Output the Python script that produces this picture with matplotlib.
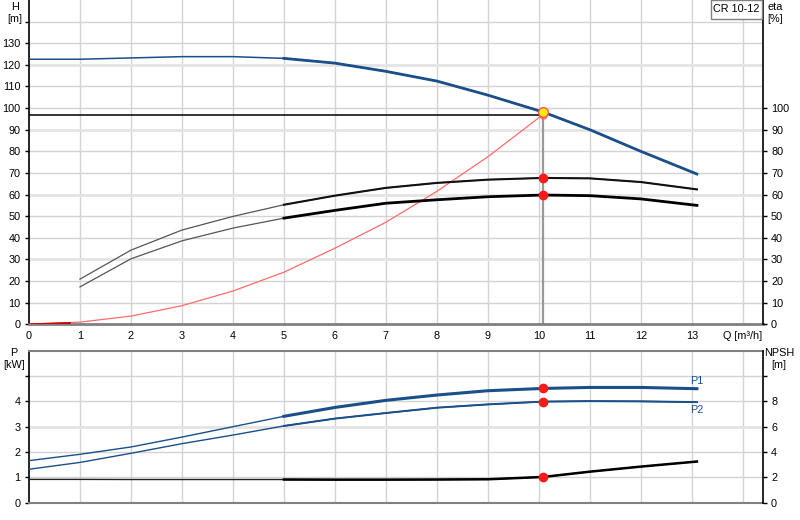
import numpy as np
import matplotlib
matplotlib.use('Agg')
import matplotlib.pyplot as plt
from matplotlib.patches import Rectangle

plt.rcParams['font.family'] = ['Liberation Sans', 'DejaVu Sans']

# рабочая точка
Q_duty = 10.08
H_duty = 98.2
H_sys_duty = 97.0

# напорная характеристика H(Q)
q_h = [0, 1, 2, 3, 4, 5, 6, 7, 8, 9, 10.08, 11, 12, 13.1]
h = [122.6, 122.6, 123.2, 123.8, 123.8, 123.0, 120.8, 117.0, 112.5, 106.0, 98.2, 90.0, 80.0, 69.5]

# КПД (два варианта)
q_eta = [1, 2, 3, 4, 5, 6, 7, 8, 9, 10.08, 11, 12, 13.1]
eta_pump = [20.9, 34.3, 43.6, 49.9, 55.3, 59.5, 63.1, 65.4, 66.9, 67.7, 67.5, 65.8, 62.4]
eta_total = [17.3, 30.3, 38.6, 44.5, 49.1, 52.7, 56.0, 57.6, 59.0, 59.8, 59.5, 58.0, 55.0]

# характеристика системы
q_sys = [0, 1, 2, 3, 4, 5, 6, 7, 8, 9, 10.08]
h_sys = [0, 1.0, 3.8, 8.6, 15.4, 24.1, 35.2, 47.2, 61.5, 77.5, 97.0]

# мощность P1, P2 и NPSH
q_p = [0, 1, 2, 3, 4, 5, 6, 7, 8, 9, 10.08, 11, 12, 13.1]
p1 = [1.66, 1.91, 2.20, 2.59, 3.00, 3.41, 3.76, 4.04, 4.25, 4.42, 4.51, 4.55, 4.55, 4.50]
p2 = [1.32, 1.59, 1.95, 2.33, 2.67, 3.03, 3.32, 3.54, 3.75, 3.88, 3.99, 4.01, 4.00, 3.97]
npsh = [1.84, 1.84, 1.83, 1.83, 1.83, 1.83, 1.82, 1.82, 1.83, 1.85, 2.03, 2.45, 2.85, 3.25]

blue = '#1a4f8a'
grid_c = '#d3d3d3'
fs = 7.8


def two_part(ax, x, y, color, thin_c, lw_thin, lw_thick, start=5):
    x = np.array(x)
    y = np.array(y)
    ax.plot(x, y, color=thin_c, lw=lw_thin, zorder=3)
    m = x >= start
    ax.plot(x[m], y[m], color=color, lw=lw_thick, zorder=4)


fig = plt.figure(figsize=(8, 5.2), dpi=100)

# ---------- верхний график: H и eta ----------
ax = fig.add_axes([29 / 800, 195.7 / 520, 733.7 / 800, 324.3 / 520])
ax.set_xlim(0, 14.39)
ax.set_ylim(0, 150)

for v in range(1, 15):
    ax.axvline(v, color=grid_c, lw=1, zorder=1)
for v in range(10, 150, 10):
    if v % 30 == 0:
        ax.axhline(v, color='#e4e4e4', lw=2.0, zorder=1)
    else:
        ax.axhline(v, color=grid_c, lw=1, zorder=1)

two_part(ax, q_h, h, blue, blue, 1.1, 2.0)
two_part(ax, q_eta, eta_pump, '#111111', '#555555', 0.9, 1.5)
two_part(ax, q_eta, eta_total, '#000000', '#555555', 0.9, 2.0)
ax.plot(q_sys, h_sys, color='#ff6b6b', lw=0.9, zorder=3)
ax.plot([0, 0.8], [0, 0.6], color='#cc0000', lw=1.4, zorder=3)

# линии рабочей точки
ax.plot([0, Q_duty], [H_sys_duty, H_sys_duty], color='black', lw=1.1, zorder=5)
ax.plot([Q_duty, Q_duty], [0, H_duty], color='#999999', lw=1.6, zorder=2)
ax.plot([Q_duty], [H_sys_duty], marker='o', ms=5, mfc='none', mec='#ff6b6b', mew=1, zorder=6)
ax.plot([Q_duty], [H_duty], marker='o', ms=7, mfc='#ffee00', mec='#ff5050', mew=1, zorder=7)
ax.plot([Q_duty, Q_duty], [eta_pump[9], eta_total[9]], ls='none', marker='o', ms=6,
        color='#ff1a1a', zorder=7)

ax.set_yticks(range(0, 150, 10))
ax.set_yticklabels([str(v) for v in range(0, 140, 10)] + [''], fontsize=fs)
ax.set_xticks(range(0, 15))
ax.set_xticklabels([str(v) for v in range(0, 14)] + ['Q [m³/h]'], fontsize=fs)
ax.tick_params(axis='x', length=0, pad=5)
ax.tick_params(axis='y', length=3, width=1, pad=3)
ax.spines['top'].set_visible(False)
ax.spines['right'].set_visible(False)
ax.spines['bottom'].set_color('#808080')
ax.spines['bottom'].set_linewidth(2)
ax.spines['left'].set_linewidth(1.2)

ax_r = ax.twinx()
ax_r.set_ylim(0, 150)
ax_r.set_yticks(range(0, 110, 10))
ax_r.set_yticklabels([str(v) for v in range(0, 110, 10)], fontsize=fs)
ax_r.tick_params(axis='y', length=3, width=1, pad=3)
for s in ['top', 'left', 'bottom']:
    ax_r.spines[s].set_visible(False)
ax_r.spines['right'].set_linewidth(1.2)

fig.text(15 / 800, 1 - 2 / 520, 'H\n[m]', ha='center', va='top', fontsize=fs, linespacing=1.25)
fig.text(775 / 800, 1 - 2 / 520, 'eta\n[%]', ha='center', va='top', fontsize=fs, linespacing=1.25)
fig.patches.append(Rectangle((711 / 800, 1 - 19 / 520), 51 / 800, 19 / 520,
                             transform=fig.transFigure, fc='white', ec='#808080', lw=1))
fig.text(736.5 / 800, 1 - 8.5 / 520, 'CR 10-12', ha='center', va='center', fontsize=fs)

# ---------- нижний график: P и NPSH ----------
bx = fig.add_axes([29 / 800, 17.3 / 520, 733.7 / 800, 152 / 520])
bx.set_xlim(0, 14.39)
bx.set_ylim(0, 6)
for v in range(1, 15):
    bx.axvline(v, color=grid_c, lw=1, zorder=1)
for v in range(1, 6):
    if v == 3:
        bx.axhline(v, color='#e4e4e4', lw=2.0, zorder=1)
    else:
        bx.axhline(v, color=grid_c, lw=1, zorder=1)

two_part(bx, q_p, p1, blue, blue, 1.0, 2.2)
two_part(bx, q_p, p2, blue, blue, 1.0, 1.4)
bx.plot([Q_duty, Q_duty], [p1[10], p2[10]], ls='none', marker='o', ms=6,
        color='#ff1a1a', zorder=7)
bx.text(13.1, 4.62, 'P1', color=blue, fontsize=fs, ha='center', va='bottom')
bx.text(13.1, 3.87, 'P2', color=blue, fontsize=fs, ha='center', va='top')

bx.set_yticks(range(0, 6))
bx.set_yticklabels(['0', '1', '2', '3', '4', ''], fontsize=fs)
bx.set_xticks([])
bx.tick_params(axis='y', length=3, width=1, pad=3)
bx.spines['top'].set_color('#808080')
bx.spines['top'].set_linewidth(1.5)
bx.spines['bottom'].set_color('#808080')
bx.spines['bottom'].set_linewidth(1.5)
bx.spines['right'].set_visible(False)
bx.spines['left'].set_linewidth(1.2)

bx_r = bx.twinx()
bx_r.set_ylim(0, 12)
two_part(bx_r, q_p, npsh, '#000000', '#222222', 1.0, 1.8)
bx_r.plot([Q_duty], [npsh[10]], marker='o', ms=6, color='#ff1a1a', zorder=7)
bx_r.set_yticks(range(0, 12, 2))
bx_r.set_yticklabels(['0', '2', '4', '6', '8', ''], fontsize=fs)
bx_r.tick_params(axis='y', length=3, width=1, pad=3)
for s in ['top', 'left', 'bottom']:
    bx_r.spines[s].set_visible(False)
bx_r.spines['right'].set_linewidth(1.2)

fig.text(14 / 800, 1 - 348 / 520, 'P\n[kW]', ha='center', va='top', fontsize=fs, linespacing=1.25)
fig.text(779 / 800, 1 - 348 / 520, 'NPSH\n[m]', ha='center', va='top', fontsize=fs, linespacing=1.25)

fig.savefig('out.png', dpi=100)
